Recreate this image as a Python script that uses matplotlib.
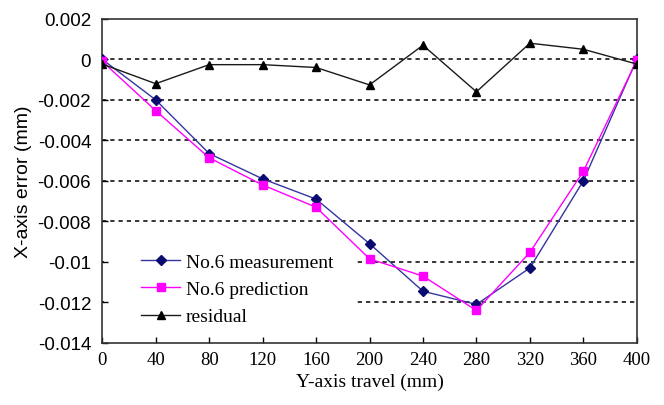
import matplotlib.pyplot as plt
from matplotlib.patches import Rectangle

# Y-axis travel positions (mm)
travel = [0, 40, 80, 120, 160, 200, 240, 280, 320, 360, 400]

# X-axis error values (mm)
measurement = [0.0, -0.0020, -0.00465, -0.0059, -0.0069, -0.0091, -0.01145, -0.0121, -0.0103, -0.0060, 0.0]
prediction = [-0.0001, -0.00253, -0.00486, -0.0062, -0.0073, -0.00985, -0.0107, -0.0124, -0.00953, -0.00553, -0.00005]
residual = [-0.00023, -0.0012, -0.00026, -0.00026, -0.0004, -0.00126, 0.0007, -0.0016, 0.0008, 0.0005, -0.00023]

y_ticks = [0.002, 0, -0.002, -0.004, -0.006, -0.008, -0.01, -0.012, -0.014]
y_labels = ["0.002", "0", "-0.002", "-0.004", "-0.006", "-0.008", "-0.01", "-0.012", "-0.014"]
grid_levels = [0, -0.002, -0.004, -0.006, -0.008, -0.01, -0.012]

plt.rcParams['font.family'] = ['Liberation Serif', 'DejaVu Serif']
sans = ['Liberation Sans Narrow', 'Liberation Sans', 'DejaVu Sans']

fig = plt.figure(figsize=(6.64, 4.06), dpi=100)
ax = fig.add_axes([0.154, 0.153, 0.805, 0.798])

# dashed horizontal grid
for g in grid_levels:
    ax.axhline(g, color='black', linestyle=(0, (2.8, 2.6)), linewidth=1.1, zorder=1)

# white block behind the legend (hides the grid there, like the original)
ax.add_patch(Rectangle((0.003, 0.005), 0.474, 0.285, transform=ax.transAxes,
                       facecolor='white', edgecolor='none', zorder=1.5))

ax.plot(travel, measurement, color='#3535A0', marker='D', markersize=5,
        markerfacecolor='#0A0A70', markeredgecolor='#0A0A70', linewidth=1.0,
        label='No.6 measurement', zorder=3)
ax.plot(travel, prediction, color='#FF00FF', marker='s', markersize=6,
        linewidth=1.0, label='No.6 prediction', zorder=3)
ax.plot(travel, residual, color='#1A1A1A', marker='^', markersize=6,
        markerfacecolor='black', markeredgecolor='black', linewidth=1.0,
        label='residual', zorder=3)

ax.set_xlim(0, 400)
ax.set_ylim(-0.014, 0.002)
ax.set_xticks(travel)
ax.set_yticks(y_ticks)
ax.set_yticklabels(y_labels, family=sans)
ax.tick_params(direction='in', length=4, width=1)
ax.tick_params(axis='x', pad=6, labelsize=13.5)
ax.tick_params(axis='y', pad=8, labelsize=13.5)

for s in ax.spines.values():
    s.set_linewidth(1.2)
    s.set_color('#333333')

ax.set_xlabel('Y-axis travel (mm)', fontsize=14, labelpad=3)
ax.set_ylabel('X-axis error (mm)', fontsize=14, family=sans[1:],
              labelpad=4)

leg = ax.legend(loc='lower left', bbox_to_anchor=(0.04, 0.0), fontsize=14,
                frameon=False, handlelength=2.0, handletextpad=0.3,
                labelspacing=0.5, borderaxespad=0.4, borderpad=0.5)
leg.set_zorder(2)

fig.savefig('out.png', dpi=100)
